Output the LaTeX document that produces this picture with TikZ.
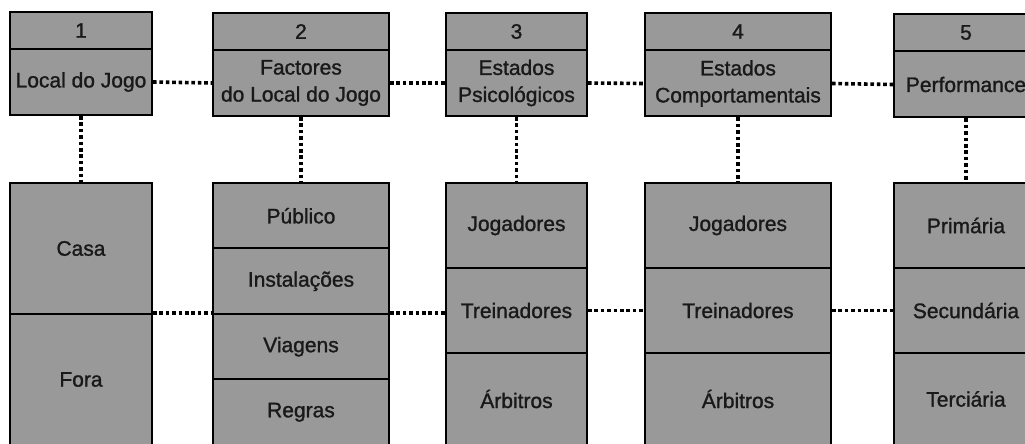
\documentclass[tikz,border=0pt]{standalone}
\usepackage{fontspec}
\setmainfont[FakeBold=1.2]{Liberation Sans}
\usepackage{tikz}

\tikzset{
  cell/.style={draw,line width=1pt,fill=black!40,inner sep=0pt,anchor=north west,
    align=center,text=black!90,font=\fontsize{10.5}{13.5}\selectfont},
  link/.style={line width=1.8pt,dash pattern=on 1.8pt off 1.4pt}
}

\begin{document}
\begin{tikzpicture}[x=0.5pt,y=-0.5pt]
\useasboundingbox (0,0) rectangle (1025,444);
% column 1
\node[cell,minimum width=71pt,minimum height=18.5pt] (h1) at (9,11) {1};
\node[cell,minimum width=71pt,minimum height=33pt] (t1) at (9,48) {Local do Jogo};
\node[cell,minimum width=71pt,minimum height=65.5pt] (c1a) at (9,182) {Casa};
\node[cell,minimum width=71pt,minimum height=65.5pt] (c1b) at (9,313) {Fora};
% column 2
\node[cell,minimum width=88pt,minimum height=18.5pt] (h2) at (212,12) {2};
\node[cell,minimum width=88pt,minimum height=33pt] (t2) at (212,49) {Factores\\do Local do Jogo};
\node[cell,minimum width=88pt,minimum height=32.75pt] (c2a) at (212,182) {Público};
\node[cell,minimum width=88pt,minimum height=32.75pt] (c2b) at (212,247.5) {Instalações};
\node[cell,minimum width=88pt,minimum height=32.75pt] (c2c) at (212,313) {Viagens};
\node[cell,minimum width=88pt,minimum height=32.75pt] (c2d) at (212,378.5) {Regras};
% column 3
\node[cell,minimum width=70.5pt,minimum height=18.5pt] (h3) at (445,12) {3};
\node[cell,minimum width=70.5pt,minimum height=33pt] (t3) at (445,49) {Estados\\Psicológicos};
\node[cell,minimum width=70.5pt,minimum height=42.5pt] (c3a) at (445,182) {Jogadores};
\node[cell,minimum width=70.5pt,minimum height=42.5pt] (c3b) at (445,267) {Treinadores};
\node[cell,minimum width=70.5pt,minimum height=46pt] (c3c) at (445,352) {Árbitros};
% column 4
\node[cell,minimum width=93pt,minimum height=18.5pt] (h4) at (644,12) {4};
\node[cell,minimum width=93pt,minimum height=33pt] (t4) at (644,49.5) {Estados\\Comportamentais};
\node[cell,minimum width=93pt,minimum height=42.5pt] (c4a) at (644,182) {Jogadores};
\node[cell,minimum width=93pt,minimum height=42.5pt] (c4b) at (644,267) {Treinadores};
\node[cell,minimum width=93pt,minimum height=46pt] (c4c) at (644,352) {Árbitros};
% column 5
\node[cell,minimum width=72pt,minimum height=18.5pt] (h5) at (893,13) {5};
\node[cell,minimum width=72pt,minimum height=33pt] (t5) at (893,50.5) {Performance};
\node[cell,minimum width=72pt,minimum height=42.5pt] (c5a) at (893,182) {Primária};
\node[cell,minimum width=72pt,minimum height=42.5pt] (c5b) at (893,267) {Secundária};
\node[cell,minimum width=72pt,minimum height=46pt] (c5c) at (893,352) {Terciária};
% dotted links
\draw[link] (t1.east) -- (t2.west);
\draw[link] (t2.east) -- (t3.west);
\draw[link] (t3.east) -- (t4.west);
\draw[link] (t4.east) -- (t5.west);
\draw[link] (t1.south) -- (c1a.north);
\draw[link] (t2.south) -- (c2a.north);
\draw[link] (t3.south) -- (c3a.north);
\draw[link] (t4.south) -- (c4a.north);
\draw[link] (t5.south) -- (c5a.north);
\draw[link] (c1b.north east) -- (c2c.north west);
\draw[link] (c2c.north east) -- (c2c.north east -| c3b.west);
\draw[link] (c3b.east) -- (c4b.west);
\draw[link] (c4b.east) -- (c5b.west);
\end{tikzpicture}
\end{document}
